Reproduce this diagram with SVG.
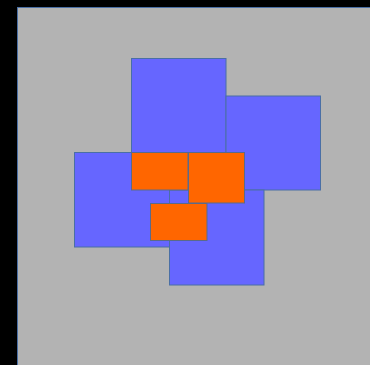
<svg xmlns="http://www.w3.org/2000/svg" width="370" height="365" viewBox="0 0 370 365">
<style>
.b{fill:#6666ff;stroke:#4a6fa5;stroke-width:1}
.o{fill:#ff6600;stroke:#5a6a8a;stroke-width:1}
</style>
<rect x="0" y="0" width="370" height="365" fill="#000"/>
<rect x="17.5" y="7.5" width="360" height="365" fill="#b3b3b3" stroke="#4a6fa5" stroke-width="1"/>
<g id="blue-top"><rect class="b" x="131.5" y="58.5" width="94.5" height="94.5"/></g>
<g id="blue-right"><rect class="b" x="226" y="96" width="94.5" height="94"/></g>
<g id="blue-left"><rect class="b" x="74.5" y="152.5" width="95" height="94.5"/></g>
<g id="blue-bottom"><rect class="b" x="169.5" y="190" width="94.5" height="95"/></g>
<g id="orange-1"><rect class="o" x="131.5" y="152.5" width="56.5" height="37.5"/></g>
<g id="orange-2"><rect class="o" x="188.5" y="152.5" width="56" height="50.5"/></g>
<g id="orange-3"><rect class="o" x="150.5" y="203.5" width="56.5" height="37"/></g>
</svg>
